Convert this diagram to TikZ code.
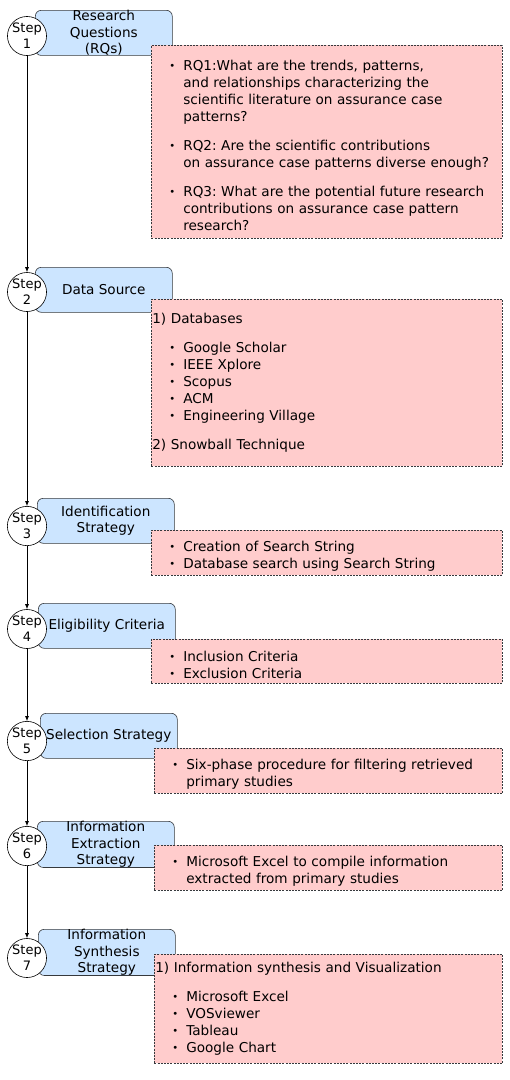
\documentclass[tikz,border=0pt]{standalone}
\usepackage{fontspec}
\setmainfont{DejaVu Sans}
\usepackage{enumitem}
\usetikzlibrary{arrows.meta,positioning}
\definecolor{phaseblue}{RGB}{204,229,255}
\definecolor{notepink}{RGB}{255,204,204}
\definecolor{edgegray}{RGB}{54,57,61}
\setlist[itemize]{label={\raisebox{1pt}{\fontsize{10}{10}\selectfont\textbullet}}, leftmargin=31pt, labelsep=8pt, topsep=0pt, partopsep=0pt, parsep=0pt, itemsep=0pt}
\frenchspacing

\begin{document}
\begin{tikzpicture}[
  x=1pt, y=-1pt,
  font=\fontsize{13.6}{17}\selectfont,
  >={Latex[length=5pt,width=4pt]},
  stepc/.style={circle, draw=black, line width=0.6pt, fill=white, minimum size=38pt, inner sep=0pt, align=center, font=\fontsize{13}{16}\selectfont},
  phase/.style={draw=edgegray, line width=0.6pt, fill=phaseblue, rounded corners=6pt, anchor=north west, align=center, minimum width=137pt, minimum height=45pt, inner sep=0pt, font=\fontsize{13.6}{16.5}\selectfont},
  detail/.style={draw=edgegray, line width=0.6pt, dash pattern=on 2pt off 1.2pt, fill=notepink, anchor=north west, align=left, text width=#1, inner xsep=1pt, inner ysep=0pt},
  flow/.style={->, draw=black, line width=0.7pt}
]
\useasboundingbox (0,0) rectangle (510,1080);

% Step phases
\node[phase] (p1) at (35,10) {Research\\Questions\\(RQs)};
\node[phase] (p2) at (35,267) {Data Source};
\node[phase] (p3) at (37,498) {Identification\\Strategy};
\node[phase] (p4) at (38,603) {Eligibility Criteria};
\node[phase] (p5) at (40,713) {Selection Strategy};
\node[phase] (p6) at (37,821) {Information\\Extraction\\Strategy};
\node[phase] (p7) at (38,929) {Information\\Synthesis\\Strategy};

% Step circles
\foreach \n/\y in {1/36,2/292,3/526,4/629,5/741,6/846,7/958}{
  \node[stepc] (s\n) at (27,\y) {Step\\\n};
}

% Step details
\node[detail=349pt, minimum height=193pt] (d1) at (151,45) {%
\begin{itemize}[itemsep=12pt]
\item RQ1:What are the trends, patterns,\\and relationships characterizing the\\scientific literature on assurance case\\patterns?
\item RQ2: Are the scientific contributions\\on assurance case patterns diverse enough?
\item RQ3: What are the potential future research\\contributions on assurance case pattern\\research?
\end{itemize}};
\node[detail=349pt, minimum height=167pt] (d2) at (151,299) {%
1) Databases
\begin{itemize}[topsep=12pt]
\item Google Scholar
\item IEEE Xplore
\item Scopus
\item ACM
\item Engineering Village
\end{itemize}
2) Snowball Technique};
\node[detail=349pt, minimum height=45pt] (d3) at (151,530) {%
\begin{itemize}
\item Creation of Search String
\item Database search using Search String
\end{itemize}};
\node[detail=349pt, minimum height=44pt] (d4) at (151,639) {%
\begin{itemize}
\item Inclusion Criteria
\item Exclusion Criteria
\end{itemize}};
\node[detail=346pt, minimum height=45pt] (d5) at (154,748) {%
\begin{itemize}
\item Six-phase procedure for filtering retrieved\\primary studies
\end{itemize}};
\node[detail=346pt, minimum height=45pt] (d6) at (154,845) {%
\begin{itemize}
\item Microsoft Excel to compile information\\extracted from primary studies
\end{itemize}};
\node[detail=346pt, minimum height=109pt] (d7) at (154,954) {%
1) Information synthesis and Visualization
\begin{itemize}[topsep=12pt]
\item Microsoft Excel
\item VOSviewer
\item Tableau
\item Google Chart
\end{itemize}};

% Flow between steps
\foreach \a/\b in {1/2,2/3,3/4,4/5,5/6,6/7}{
  \draw[flow] (s\a) -- (s\b);
}

\end{tikzpicture}
\end{document}
